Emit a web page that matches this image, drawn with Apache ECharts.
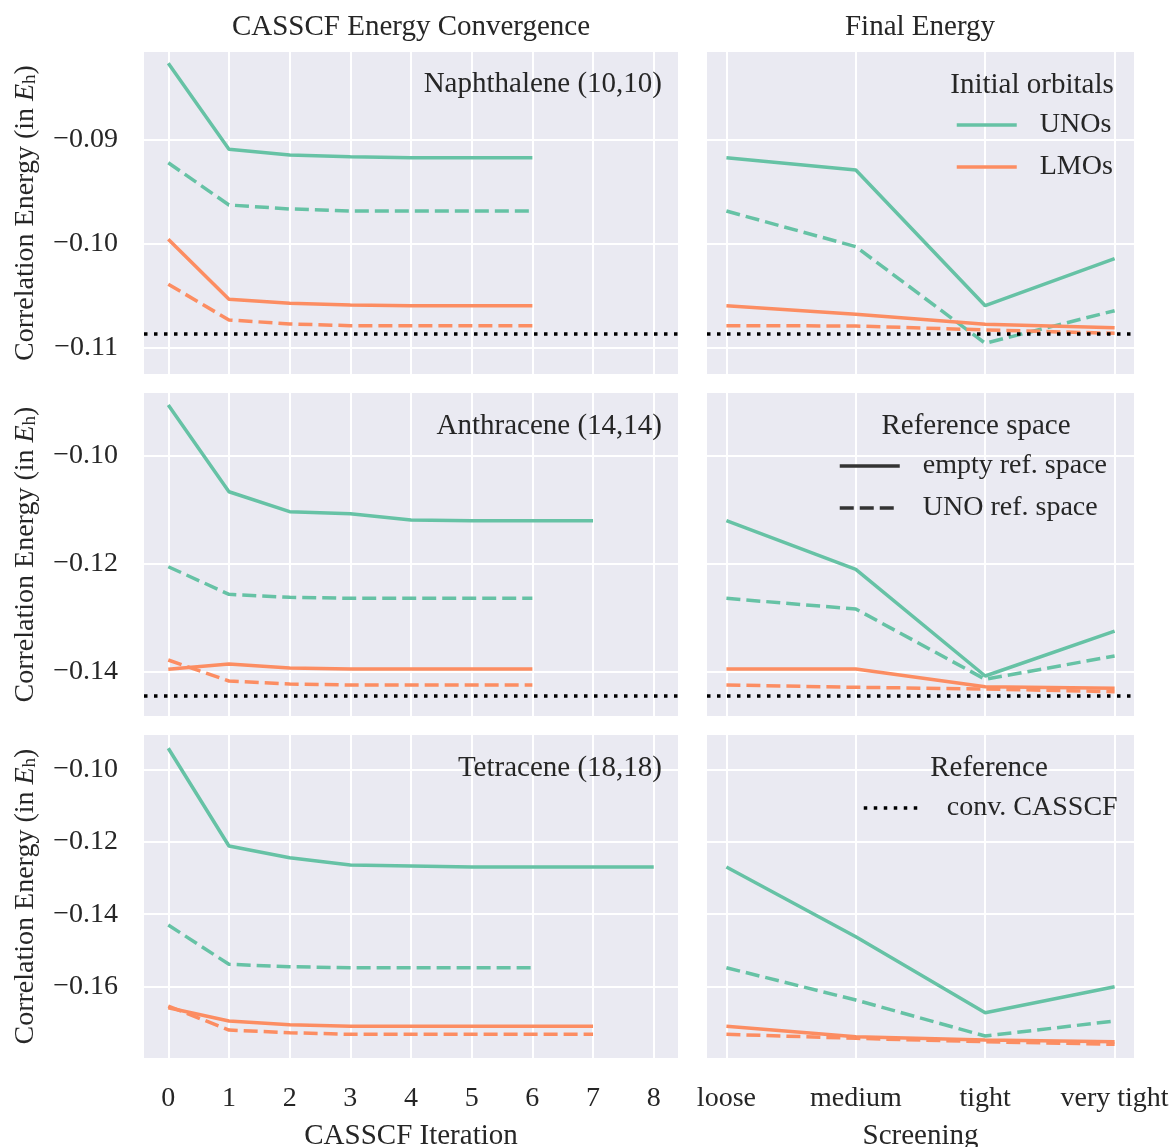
<!DOCTYPE html>
<html><head><meta charset="utf-8">
<script src="https://cdn.jsdelivr.net/npm/echarts@6/dist/echarts.min.js"></script>
<style>html,body{margin:0;padding:0;background:#fff}#c{width:1176px;height:1147px}</style>
</head><body><div id="c"></div>
<script>
// ---------- axes / ticks ----------
const iterations = [0, 1, 2, 3, 4, 5, 6, 7, 8];
const screeningLabels = ['loose', 'medium', 'tight', 'very tight'];
const screeningPos = [0, 1, 2, 3];
const yTicksNap = [-0.11, -0.10, -0.09];
const yTicksAnt = [-0.14, -0.12, -0.10];
const yTicksTet = [-0.16, -0.14, -0.12, -0.10];

// ---------- CASSCF convergence (per iteration) ----------
const napUnoEmpty = [-0.08268, -0.09094, -0.09149, -0.09165, -0.09175, -0.09175, -0.09175];
const napUnoRef   = [-0.09223, -0.09629, -0.09667, -0.09687, -0.09687, -0.09687, -0.09687];
const napLmoEmpty = [-0.09958, -0.10534, -0.10573, -0.10589, -0.10596, -0.10596, -0.10596];
const napLmoRef   = [-0.10390, -0.10733, -0.10771, -0.10788, -0.10788, -0.10788, -0.10788];

const antUnoEmpty = [-0.09055, -0.10662, -0.11032, -0.11070, -0.11186, -0.11199, -0.11199, -0.11199];
const antUnoRef   = [-0.12052, -0.12563, -0.12619, -0.12638, -0.12638, -0.12638, -0.12638];
const antLmoEmpty = [-0.13954, -0.13855, -0.13929, -0.13948, -0.13948, -0.13948, -0.13948];
const antLmoRef   = [-0.13781, -0.14170, -0.14226, -0.14244, -0.14244, -0.14244, -0.14244];

const tetUnoEmpty = [-0.09420, -0.12117, -0.12440, -0.12641, -0.12669, -0.12697, -0.12697, -0.12697, -0.12697];
const tetUnoRef   = [-0.14298, -0.15382, -0.15449, -0.15476, -0.15476, -0.15476, -0.15476];
const tetLmoEmpty = [-0.16580, -0.16947, -0.17049, -0.17093, -0.17093, -0.17093, -0.17093, -0.17093];
const tetLmoRef   = [-0.16533, -0.17196, -0.17270, -0.17314, -0.17314, -0.17314, -0.17314, -0.17314];

// ---------- Final energy (per screening level) ----------
const napFinUnoEmpty = [-0.09175, -0.09293, -0.10596, -0.10145];
const napFinUnoRef   = [-0.09687, -0.10029, -0.10957, -0.10644];
const napFinLmoEmpty = [-0.10596, -0.10678, -0.10774, -0.10807];
const napFinLmoRef   = [-0.10788, -0.10791, -0.10829, -0.10861];

const antFinUnoEmpty = [-0.11199, -0.12100, -0.14078, -0.13244];
const antFinUnoRef   = [-0.12638, -0.12836, -0.14139, -0.13707];
const antFinLmoEmpty = [-0.13948, -0.13948, -0.14276, -0.14306];
const antFinLmoRef   = [-0.14244, -0.14287, -0.14318, -0.14369];

const tetFinUnoEmpty = [-0.12697, -0.14620, -0.16718, -0.16000];
const tetFinUnoRef   = [-0.15476, -0.16368, -0.17361, -0.16947];
const tetFinLmoEmpty = [-0.17093, -0.17380, -0.17472, -0.17519];
const tetFinLmoRef   = [-0.17314, -0.17425, -0.17519, -0.17590];

// converged CASSCF reference (none for tetracene)
const refEnergies = [-0.10868, -0.14443, null];

// ---------- styling ----------
const FONT = 'Liberation Serif';
const TXT = '#262626';
const FS = 28;
const FS_T = 29;
const TEAL = '#66c2a5';
const ORANGE = '#fc8d62';
const LW = 3.5;
const DASH = [14, 6];
const DOT = [3.5, 6.5];
const BG = '#EAEAF2';

const rowsY = [
  { top: 52, height: 322, min: -0.11252, max: -0.08160, ticks: yTicksNap },
  { top: 393, height: 323, min: -0.14819, max: -0.08832, ticks: yTicksAnt },
  { top: 735, height: 323, min: -0.17968, max: -0.09053, ticks: yTicksTet }
];

const grids = [], xAxes = [], yAxes = [];
rowsY.forEach((r, ri) => {
  const bottomRow = ri === 2;
  [0, 1].forEach(ci => {
    const gi = ri * 2 + ci;
    grids.push({
      left: ci === 0 ? 144 : 707, top: r.top,
      width: ci === 0 ? 534 : 427, height: r.height,
      show: true, backgroundColor: BG, borderWidth: 0,
      containLabel: false, outerBoundsMode: 'none'
    });
    const xt = ci === 0 ? iterations : screeningPos;
    xAxes.push({
      type: 'value', gridIndex: gi,
      min: ci === 0 ? -0.4 : -0.15, max: ci === 0 ? 8.4 : 3.15,
      axisLine: { show: false },
      axisTick: { show: false, customValues: xt },
      axisLabel: {
        show: bottomRow, customValues: xt, margin: 27,
        fontFamily: FONT, fontSize: FS, color: TXT,
        formatter: v => ci === 0 ? String(v) : screeningLabels[screeningPos.indexOf(v)]
      },
      splitLine: { show: true, lineStyle: { color: '#ffffff', width: 2 } },
      name: bottomRow ? (ci === 0 ? 'CASSCF Iteration' : 'Screening') : '',
      nameLocation: 'middle', nameGap: 64,
      nameTextStyle: { fontFamily: FONT, fontSize: FS_T, color: TXT }
    });
    yAxes.push({
      type: 'value', gridIndex: gi, min: r.min, max: r.max,
      axisLine: { show: false },
      axisTick: { show: false, customValues: r.ticks },
      axisLabel: {
        show: ci === 0, customValues: r.ticks, margin: 26, padding: [8, 0, 0, 0],
        fontFamily: FONT, fontSize: FS, color: TXT,
        formatter: v => '\u2212' + Math.abs(v).toFixed(2)
      },
      splitLine: { show: true, lineStyle: { color: '#ffffff', width: 2 } },
      name: ci === 0 ? '{a|Correlation Energy (in }{e|E}{h|h}{a|)}' : '',
      nameLocation: 'middle', nameRotate: 90, nameGap: 104,
      nameTextStyle: {
        fontFamily: FONT, fontSize: FS, color: TXT,
        rich: {
          a: { fontFamily: FONT, fontSize: FS, color: TXT },
          e: { fontFamily: FONT, fontSize: FS, color: TXT, fontStyle: 'italic' },
          h: { fontFamily: FONT, fontSize: 19, color: TXT, verticalAlign: 'bottom' }
        }
      }
    });
  });
});

function mk(values, gi, color, dashed, xs, ref) {
  const s = {
    type: 'line', xAxisIndex: gi, yAxisIndex: gi,
    data: values.map((v, i) => [xs[i], v]),
    symbol: 'none', silent: true, animation: false,
    lineStyle: { color: color, width: LW, type: dashed ? DASH : 'solid', cap: 'butt' },
    itemStyle: { color: color }
  };
  if (ref !== undefined && ref !== null) {
    s.markLine = {
      silent: true, animation: false, symbol: ['none', 'none'], precision: 6,
      label: { show: false },
      lineStyle: { color: '#000000', width: 3.5, type: DOT },
      data: [{ yAxis: ref }]
    };
  }
  return s;
}

const convSets = [
  [napUnoEmpty, napUnoRef, napLmoEmpty, napLmoRef],
  [antUnoEmpty, antUnoRef, antLmoEmpty, antLmoRef],
  [tetUnoEmpty, tetUnoRef, tetLmoEmpty, tetLmoRef]
];
const finSets = [
  [napFinUnoEmpty, napFinUnoRef, napFinLmoEmpty, napFinLmoRef],
  [antFinUnoEmpty, antFinUnoRef, antFinLmoEmpty, antFinLmoRef],
  [tetFinUnoEmpty, tetFinUnoRef, tetFinLmoEmpty, tetFinLmoRef]
];

const series = [];
[0, 1, 2].forEach(ri => {
  const c = convSets[ri], f = finSets[ri], ref = refEnergies[ri];
  const gL = ri * 2, gR = ri * 2 + 1;
  series.push(mk(c[0], gL, TEAL, false, iterations));
  series.push(mk(c[1], gL, TEAL, true, iterations));
  series.push(mk(c[2], gL, ORANGE, false, iterations));
  series.push(mk(c[3], gL, ORANGE, true, iterations, ref));
  series.push(mk(f[0], gR, TEAL, false, screeningPos));
  series.push(mk(f[1], gR, TEAL, true, screeningPos));
  series.push(mk(f[2], gR, ORANGE, false, screeningPos));
  series.push(mk(f[3], gR, ORANGE, true, screeningPos, ref));
});

// legend-only series (no data; symbol hidden)
function legendSeries(name, color, type, width) {
  return {
    type: 'line', name: name, xAxisIndex: 1, yAxisIndex: 1, data: [],
    symbol: 'none', animation: false,
    lineStyle: { color: color, width: width, type: type, cap: 'butt' },
    itemStyle: { color: color, opacity: 0, borderWidth: 0 }
  };
}
series.push(legendSeries('UNOs', TEAL, 'solid', LW));
series.push(legendSeries('LMOs', ORANGE, 'solid', LW));
series.push(legendSeries('empty ref. space', '#333333', 'solid', LW));
series.push(legendSeries('UNO ref. space', '#333333', DASH, LW));
series.push(legendSeries('conv. CASSCF', '#000000', DOT, 3.5));

function legend(data, left, top) {
  return {
    data: data, left: left, top: top, orient: 'vertical',
    itemWidth: 60, itemHeight: 14, itemGap: 12, selectedMode: false,
    itemStyle: { opacity: 0, borderWidth: 0 },
    lineStyle: { width: LW },
    textStyle: { fontFamily: FONT, fontSize: FS, color: TXT, lineHeight: 30, padding: [0, 0, 0, 18] }
  };
}

function txt(text, x, y, align) {
  return {
    type: 'text', x: x, y: y, silent: true, z: 100,
    style: { text: text, fontFamily: FONT, fontSize: FS_T, fill: TXT, align: align || 'center', verticalAlign: 'middle' }
  };
}

const option = {
  backgroundColor: '#ffffff',
  animation: false,
  grid: grids, xAxis: xAxes, yAxis: yAxes, series: series,
  legend: [
    legend(['UNOs', 'LMOs'], 950, 105),
    legend(['empty ref. space', 'UNO ref. space'], 833, 446),
    legend(['conv. CASSCF'], 857, 788)
  ],
  graphic: [
    txt('CASSCF Energy Convergence', 411, 27),
    txt('Final Energy', 920, 27),
    txt('Naphthalene (10,10)', 662, 84, 'right'),
    txt('Anthracene (14,14)', 662, 426, 'right'),
    txt('Tetracene (18,18)', 662, 768, 'right'),
    txt('Initial orbitals', 1032, 85),
    txt('Reference space', 976, 426),
    txt('Reference', 989, 768)
  ]
};

const chart = echarts.init(document.getElementById('c'), null, { renderer: 'canvas' });
chart.setOption(option);
</script>
</body></html>
